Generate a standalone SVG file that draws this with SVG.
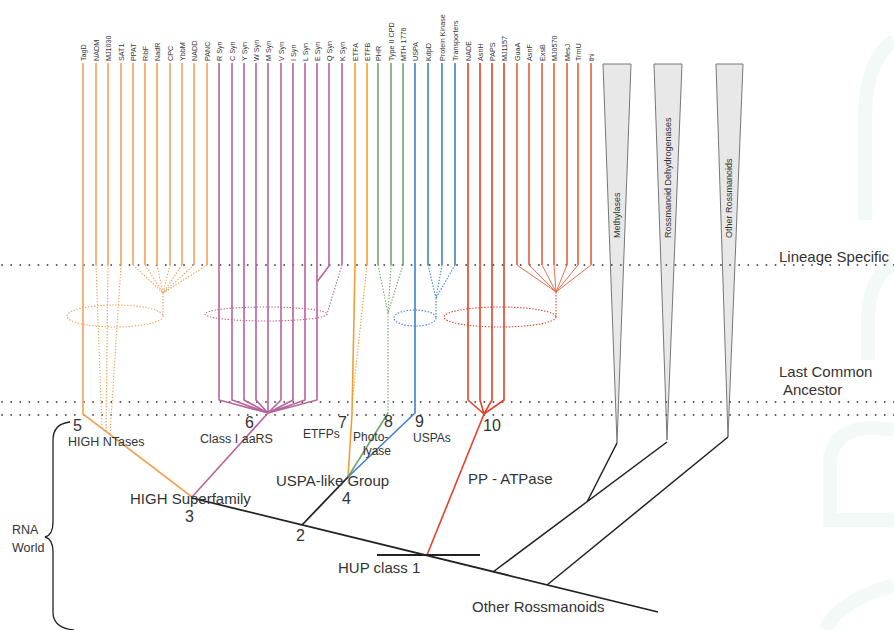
<svg xmlns="http://www.w3.org/2000/svg" width="894" height="630" viewBox="0 0 894 630">
<style>
text{font-family:"Liberation Sans",Arial,sans-serif;fill:#333}
.lbl{font-size:7.2px;fill:#333}
.wl{font-size:9px;fill:#333}
.big{font-size:15px}
.num{font-size:16px}
.sm{font-size:12.5px}
.or{stroke:#f4a258;stroke-width:1.6;fill:none}
.pk{stroke:#b8639a;stroke-width:1.6;fill:none}
.et{stroke:#f0a030;stroke-width:1.6;fill:none}
.gr{stroke:#77a36e;stroke-width:1.6;fill:none}
.bl{stroke:#3f7fcc;stroke-width:1.6;fill:none}
.rd{stroke:#e4402c;stroke-width:1.6;fill:none}
.ro{stroke:#e8603a;stroke-width:1.6;fill:none}
.dt{stroke-dasharray:1.4 1.6;stroke-width:1.1}
.blk{stroke:#222;stroke-width:1.8;fill:none}
.hz{stroke:#555;stroke-width:1.8;stroke-dasharray:0.1 9;stroke-linecap:round;fill:none}
.wedge{fill:#e8e8e8;stroke:#777;stroke-width:1}
.wm{stroke:#f3f9f6;stroke-width:14;fill:none}
</style>
<!-- faint watermark -->
<g id="watermark">
<path class="wm" d="M894 40 Q 865 60 865 120 L 865 220"/>
<path class="wm" d="M894 262 Q 868 280 868 320 L 868 360"/>
<path class="wm" d="M894 430 Q 835 420 830 460 L 830 520 L 894 520"/>
<path class="wm" d="M894 585 Q 840 600 825 630"/>
</g>
<!-- wedges -->
<g id="wedge-methylases"><polygon class="wedge" points="603,64 631,64 617,443"/><text class="wl" transform="translate(620,238) rotate(-90)">Methylases</text></g>
<g id="wedge-rossdh"><polygon class="wedge" points="654,64 682,64 667,440"/><text class="wl" transform="translate(671,238) rotate(-90)">Rossmanoid Dehydrogenases</text></g>
<g id="wedge-otherross"><polygon class="wedge" points="716,64 743,64 728,437"/><text class="wl" transform="translate(732,238) rotate(-90)">Other Rossmanoids</text></g>
<!-- horizontal dotted levels -->
<g id="levels">
<line class="hz" x1="2" y1="265" x2="894" y2="265"/>
<line class="hz" x1="2" y1="402" x2="894" y2="402"/>
<line class="hz" x1="2" y1="415" x2="894" y2="415"/>
</g>
<g id="connectors">
<!-- HIGH NTases (orange) -->
<g>
<path class="or" d="M83 63 V414 L192 497"/>
<path class="or" d="M96 63 V265 M108 63 V265 M121 63 V265 M133 63 V265 M145 63 V265 M157 63 V265 M170 63 V265 M182 63 V265 M194 63 V265 M207 63 V265"/>
<path class="or dt" d="M96 265 L102 429 M108 265 L106 431 M121 265 L110 434"/>
<path class="or dt" d="M133 265 L163 293 M145 265 L163 293 M157 265 L163 293 M170 265 L163 293 M182 265 L163 293 M194 265 L163 293 M207 265 L163 293 M163 293 V316"/>
<ellipse class="or dt" cx="115" cy="316" rx="48" ry="11"/>
</g>
<!-- Class I aaRS (pink) -->
<g>
<path class="pk" d="M219 63 V400 L268 413 M232 63 V400 L268 413 M244 63 V400 L268 413 M256 63 V400 L268 413 M268 63 V413 M281 63 V400 L268 413 M293 63 V400 L268 413 M305 63 V400 L268 413 M317 63 V400 L268 413"/>
<path class="pk" d="M329 63 V266 L317 282 M342 63 V265"/>
<path class="pk" d="M268 413 L192 497"/>
<path class="pk dt" d="M342 265 L327 314"/>
<ellipse class="pk dt" cx="266" cy="314" rx="61" ry="7"/>
</g>
<!-- ETFPs (orange) -->
<g>
<path class="et" d="M355 63 V265 L352 414 L348 477"/>
<path class="et" d="M367 63 V265"/>
<path class="et dt" d="M367 265 L353 395"/>
</g>
<!-- Photolyase (green) -->
<g>
<path class="gr" d="M378 63 V265 M391 63 V265 M403 63 V265"/>
<path class="gr dt" d="M378 265 L388 313 M391 265 L388 313 M403 265 L388 313 M388 313 V413"/>
<path class="gr" d="M388 413 L348 477"/>
</g>
<!-- USPAs (blue) -->
<g>
<path class="bl" d="M415 63 V413 L348 477"/>
<path class="bl" d="M428 63 V265 M442 63 V265 M455 63 V265"/>
<path class="bl dt" d="M428 265 L436 298 M442 265 L436 298 M455 265 L436 298 M436 298 V318"/>
<ellipse class="bl dt" cx="415" cy="318" rx="21" ry="8"/>
</g>
<!-- PP-ATPase (red) -->
<g>
<path class="rd" d="M468 63 V400 L484 414 M480 63 V400 L484 414 M492 63 V400 L484 414 M504 63 V400 L484 414"/>
<path class="ro" d="M517 63 V265 M529 63 V265 M542 63 V265 M554 63 V265 M567 63 V265 M578 63 V265 M591 63 V265"/>
<path class="ro" style="stroke-width:0.9" d="M517 265 L556 292 M529 265 L556 292 M542 265 L556 292 M554 265 L556 292 M567 265 L556 292 M578 265 L556 292 M591 265 L556 292"/>
<path class="rd dt" d="M556 292 V317"/>
<ellipse class="rd dt" cx="500" cy="317" rx="56" ry="10"/>
<path class="rd" d="M484 414 L427 555"/>
</g>
<!-- black backbone -->
<g>
<path class="blk" d="M192 498 L658 612"/>
<path class="blk" d="M302 525 L348 477"/>
<path class="blk" d="M377 555 H480"/>
<path class="blk" style="stroke-width:1.5" d="M493 572 L667 442 M587 502 L617 443 M547 585 L728 437"/>
<path class="blk" style="stroke-width:1.3" d="M70 422 Q53 424 53 440 L53 522 Q53 535 45 537 Q53 539 53 552 L53 612 Q53 628 74 630"/>
</g>
</g>
<!-- top labels -->
<g id="top-labels">
<text class="lbl" transform="translate(85.5,61) rotate(-90)">TagD</text>
<text class="lbl" transform="translate(98.5,61) rotate(-90)">NADM</text>
<text class="lbl" transform="translate(110.5,61) rotate(-90)">MJ1030</text>
<text class="lbl" transform="translate(123.5,61) rotate(-90)">SAT1</text>
<text class="lbl" transform="translate(135.5,61) rotate(-90)">PPAT</text>
<text class="lbl" transform="translate(147.5,61) rotate(-90)">RibF</text>
<text class="lbl" transform="translate(159.5,61) rotate(-90)">NadR</text>
<text class="lbl" transform="translate(172.5,61) rotate(-90)">CPC</text>
<text class="lbl" transform="translate(184.5,61) rotate(-90)">YbbM</text>
<text class="lbl" transform="translate(196.5,61) rotate(-90)">NADD</text>
<text class="lbl" transform="translate(209.5,61) rotate(-90)">PANC</text>
<text class="lbl" transform="translate(221.5,61) rotate(-90)">R Syn</text>
<text class="lbl" transform="translate(234.5,61) rotate(-90)">C Syn</text>
<text class="lbl" transform="translate(246.5,61) rotate(-90)">Y Syn</text>
<text class="lbl" transform="translate(258.5,61) rotate(-90)">W Syn</text>
<text class="lbl" transform="translate(270.5,61) rotate(-90)">M Syn</text>
<text class="lbl" transform="translate(283.5,61) rotate(-90)">V Syn</text>
<text class="lbl" transform="translate(295.5,61) rotate(-90)">I Syn</text>
<text class="lbl" transform="translate(307.5,61) rotate(-90)">L Syn</text>
<text class="lbl" transform="translate(319.5,61) rotate(-90)">E Syn</text>
<text class="lbl" transform="translate(331.5,61) rotate(-90)">Q Syn</text>
<text class="lbl" transform="translate(344.5,61) rotate(-90)">K Syn</text>
<text class="lbl" transform="translate(357.5,61) rotate(-90)">ETFA</text>
<text class="lbl" transform="translate(369.5,61) rotate(-90)">ETFB</text>
<text class="lbl" transform="translate(380.5,61) rotate(-90)">PHR</text>
<text class="lbl" transform="translate(393.5,61) rotate(-90)">Type II CPD</text>
<text class="lbl" transform="translate(405.5,61) rotate(-90)">MTH 1776</text>
<text class="lbl" transform="translate(417.5,61) rotate(-90)">USPA</text>
<text class="lbl" transform="translate(430.5,61) rotate(-90)">KdpD</text>
<text class="lbl" transform="translate(444.5,61) rotate(-90)">Protein Kinase</text>
<text class="lbl" transform="translate(457.5,61) rotate(-90)">Transporters</text>
<text class="lbl" transform="translate(470.5,61) rotate(-90)">NADE</text>
<text class="lbl" transform="translate(482.5,61) rotate(-90)">AsnH</text>
<text class="lbl" transform="translate(494.5,61) rotate(-90)">PAPS</text>
<text class="lbl" transform="translate(506.5,61) rotate(-90)">MJ1157</text>
<text class="lbl" transform="translate(519.5,61) rotate(-90)">GuaA</text>
<text class="lbl" transform="translate(531.5,61) rotate(-90)">AsnF</text>
<text class="lbl" transform="translate(544.5,61) rotate(-90)">ExsB</text>
<text class="lbl" transform="translate(556.5,61) rotate(-90)">MJ0570</text>
<text class="lbl" transform="translate(569.5,61) rotate(-90)">MesJ</text>
<text class="lbl" transform="translate(580.5,61) rotate(-90)">TrmU</text>
<text class="lbl" transform="translate(593.5,61) rotate(-90)">thi</text>
</g>
<!-- node labels -->
<g id="node-5"><text class="num" x="73" y="431">5</text><text class="sm" x="68" y="446">HIGH NTases</text></g>
<g id="node-6"><text class="num" x="245" y="428">6</text><text class="sm" x="200" y="443">Class I aaRS</text></g>
<g id="node-7"><text class="num" x="338" y="428">7</text><text class="sm" style="font-size:12px" x="303" y="438">ETFPs</text></g>
<g id="node-8"><text class="num" x="384" y="427">8</text><text class="sm" style="font-size:12px" x="353" y="441">Photo-</text><text class="sm" style="font-size:12px" x="363" y="455">lyase</text></g>
<g id="node-9"><text class="num" x="415" y="427">9</text><text class="sm" style="font-size:12px" x="413" y="442">USPAs</text></g>
<g id="node-10"><text class="num" x="483" y="431">10</text></g>
<g id="node-4"><text class="big" x="276" y="486">USPA-like Group</text><text class="num" x="342" y="504">4</text></g>
<g id="node-3"><text class="big" x="130" y="504">HIGH Superfamily</text><text class="num" x="185" y="522">3</text></g>
<g id="node-2"><text class="num" x="296" y="541">2</text></g>
<g id="node-1"><text class="big" x="338" y="573">HUP class 1</text></g>
<g id="label-ppatpase"><text class="big" x="468" y="484">PP - ATPase</text></g>
<g id="label-otherross"><text class="big" x="472" y="612">Other Rossmanoids</text></g>
<g id="label-rna"><text class="sm" x="12" y="534">RNA</text><text class="sm" x="12" y="552">World</text></g>
<g id="label-levels">
<text class="big" x="779" y="262">Lineage Specific</text>
<text class="big" x="779" y="377">Last Common</text>
<text class="big" x="783" y="395">Ancestor</text>
</g>
</svg>
